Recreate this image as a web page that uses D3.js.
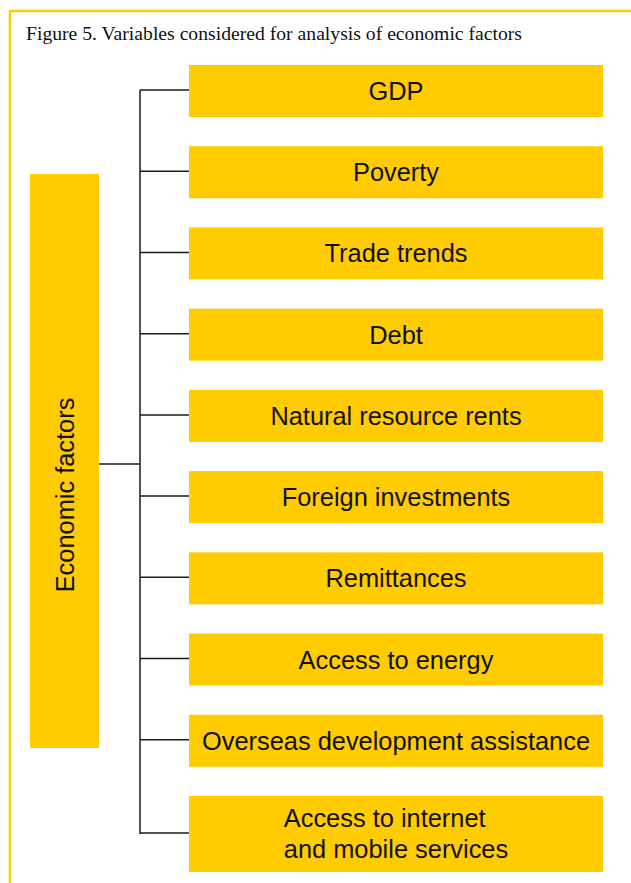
<!DOCTYPE html>
<html>
<head>
<meta charset="utf-8">
<script src="https://cdn.jsdelivr.net/npm/d3@7"></script>
<style>
  html, body { margin: 0; padding: 0; background: #fff; }
  svg { display: block; }
</style>
</head>
<body>
<div id="main"></div>
<script>
/////////////
// DATA    //
/////////////

const title = "Figure 5. Variables considered for analysis of economic factors"
const root_label = "Economic factors"
const factors = [
    ["GDP"]
  , ["Poverty"]
  , ["Trade trends"]
  , ["Debt"]
  , ["Natural resource rents"]
  , ["Foreign investments"]
  , ["Remittances"]
  , ["Access to energy"]
  , ["Overseas development assistance"]
  , ["Access to internet", "and mobile services"]
]

/////////////
// SETUP   //
/////////////

const width = 631
const height = 883
const YELLOW = "#fecc00"
const LINE = "#1a1a1a"
const SANS = "'Liberation Sans', Arial, sans-serif"
const FONT_SIZE = 25.4

const box_h = 52
const line_h = 31
const box_x0 = 189, box_x1 = 603
const trunk_x = 140
const root = {x0: 30, x1: 99, y0: 174, y1: 748}

// top of every box, spread evenly
const y = d3.scalePoint()
    .domain(d3.range(factors.length))
    .range([65, 796])

const h = i => box_h + (factors[i].length - 1) * 24
const mid = i => y(i) + h(i) / 2

const svg = d3.select("#main").append("svg")
    .attr("width", width)
    .attr("height", height)

// frame
svg.append("path")
    .attr("d", `M10,${height} V11 H${width}`)
    .attr("fill", "none")
    .attr("stroke", YELLOW)
    .attr("stroke-width", 2.5)

svg.append("text")
    .attr("x", 26)
    .attr("y", 40)
    .attr("font-family", "'Liberation Serif', serif")
    .attr("font-size", 18)
    .attr("textLength", 496)
    .attr("lengthAdjust", "spacingAndGlyphs")
    .attr("fill", "#111")
    .text(title)

// connectors
const first = mid(0) - 1, last = mid(factors.length - 1)
svg.append("line")
    .attr("x1", trunk_x).attr("x2", trunk_x)
    .attr("y1", first).attr("y2", last)
    .attr("stroke", LINE).attr("stroke-width", 1.5)

svg.selectAll("line.branch")
    .data(factors)
    .enter().append("line")
        .attr("class", "branch")
        .attr("x1", trunk_x).attr("x2", box_x0)
        .attr("y1", (d, i) => mid(i) - 1).attr("y2", (d, i) => mid(i) - 1)
        .attr("stroke", LINE).attr("stroke-width", 1.5)

const root_mid = 464
svg.append("line")
    .attr("x1", root.x1).attr("x2", trunk_x)
    .attr("y1", root_mid).attr("y2", root_mid)
    .attr("stroke", LINE).attr("stroke-width", 1.5)

// root box
svg.append("rect")
    .attr("x", root.x0).attr("y", root.y0)
    .attr("width", root.x1 - root.x0).attr("height", root.y1 - root.y0)
    .attr("fill", YELLOW)

svg.append("text")
    .attr("transform", `translate(${(root.x0 + root.x1) / 2 + 9},495) rotate(-90)`)
    .attr("text-anchor", "middle")
    .attr("font-family", SANS)
    .attr("font-size", FONT_SIZE)
    .attr("fill", "#111")
    .text(root_label)

// factor boxes
const boxes = svg.selectAll("g.factor")
    .data(factors)
    .enter().append("g")
        .attr("class", "factor")

boxes.append("rect")
    .attr("x", box_x0)
    .attr("y", (d, i) => y(i))
    .attr("width", box_x1 - box_x0)
    .attr("height", (d, i) => h(i))
    .attr("fill", YELLOW)

boxes.each(function(d, i) {
    const g = d3.select(this)
    const cx = (box_x0 + box_x1) / 2
    const t = g.append("text")
        .attr("font-family", SANS)
        .attr("font-size", FONT_SIZE)
        .attr("fill", "#111")
    if (d.length === 1) {
        t.attr("x", cx).attr("y", mid(i) + 9)
            .attr("text-anchor", "middle")
            .text(d[0])
    } else {
        const y0 = mid(i) + 8 - (d.length - 1) * line_h / 2
        d.forEach((s, k) => {
            t.append("tspan").attr("x", 0).attr("y", y0 + k * line_h).text(s)
        })
        // block centred, lines left aligned
        const w = t.node().getBBox().width
        t.selectAll("tspan").attr("x", cx - w / 2)
    }
})
</script>
</body>
</html>
